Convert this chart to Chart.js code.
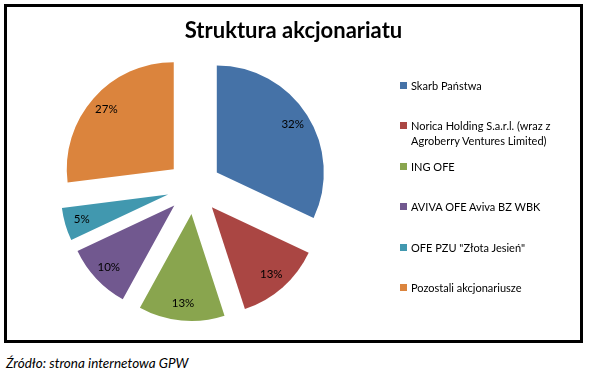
<!DOCTYPE html>
<html>
<head>
<meta charset="utf-8">
<script src="https://cdn.jsdelivr.net/npm/chart.js@4.4.1/dist/chart.umd.min.js"></script>
<style>
  body { margin: 0; width: 590px; height: 378px; background: #fff; font-family: Lato, "Open Sans", sans-serif; position: relative; }
  #frame { position: absolute; left: 4px; top: 4px; width: 573px; height: 333px; border: 3px solid #000; }
  #frame canvas { position: absolute; left: 0; top: 0; }
  #title { position: absolute; left: 0; right: 0; top: 8px; text-align: center; font-weight: bold; font-size: 22px; line-height: 30px; color: #000; }
  #legend { position: absolute; left: 393px; top: 71px; }
  .item { position: relative; height: 40.4px; padding-left: 11px; font-size: 11px; line-height: 15px; color: #000; }
  .item span.box { position: absolute; left: 0; top: 4px; width: 7px; height: 7px; }
  #source { position: absolute; left: 6px; top: 355px; font-style: italic; font-size: 13.5px; color: #000; }
</style>
</head>
<body>
<div id="frame">
  <canvas id="pie" width="573" height="333"></canvas>
  <div id="title">Struktura akcjonariatu</div>
  <div id="legend"></div>
</div>
<div id="source">Źródło: strona internetowa GPW</div>
<script>
const labels = [
  'Skarb Państwa',
  'Norica Holding S.a.r.l. (wraz z Agroberry Ventures Limited)',
  'ING OFE',
  'AVIVA OFE Aviva BZ WBK',
  'OFE PZU "Złota Jesień"',
  'Pozostali akcjonariusze'
];
const legendLines = [
  ['Skarb Państwa'],
  ['Norica Holding S.a.r.l. (wraz z', 'Agroberry Ventures Limited)'],
  ['ING OFE'],
  ['AVIVA OFE Aviva BZ WBK'],
  ['OFE PZU "Złota Jesień"'],
  ['Pozostali akcjonariusze']
];
const shares = [32, 13, 13, 10, 5, 27];
const colors = ['#4572A7', '#AA4643', '#89A54E', '#71588F', '#4198AF', '#DB843D'];

const EXPLODE = 27;

// html legend
const legend = document.getElementById('legend');
legendLines.forEach((lines, i) => {
  const div = document.createElement('div');
  div.className = 'item';
  div.innerHTML = '<span class="box" style="background:' + colors[i] + '"></span>' + lines.join('<br>');
  legend.appendChild(div);
});

// chart.js grows small exploded slices and trims their angle,
// undo that so every slice is just shifted out like in excel
const plainExplode = {
  id: 'plainExplode',
  beforeDatasetDraw(chart) {
    chart.getDatasetMeta(0).data.forEach(arc => {
      const off = (arc.options.offset || 0) / 4;
      const fix = 1 - Math.sin(Math.min(Math.PI, arc.circumference));
      const radOff = off * fix;
      const r = arc.outerRadius;
      arc.$saved = { outerRadius: r, startAngle: arc.startAngle, endAngle: arc.endAngle };
      const widen = radOff / (2 * Math.PI * r);
      arc.outerRadius = r - radOff;
      arc.startAngle -= widen;
      arc.endAngle += widen;
    });
  },
  afterDatasetDraw(chart) {
    chart.getDatasetMeta(0).data.forEach(arc => {
      if (arc.$saved) {
        Object.assign(arc, arc.$saved);
        delete arc.$saved;
      }
    });
  }
};

// percent labels inside the slices
const pctLabels = {
  id: 'pctLabels',
  afterDatasetsDraw(chart) {
    const ctx = chart.ctx;
    const meta = chart.getDatasetMeta(0);
    ctx.save();
    ctx.font = '11.5px Lato';
    ctx.fillStyle = '#000';
    ctx.textAlign = 'center';
    ctx.textBaseline = 'middle';
    meta.data.forEach((arc, i) => {
      const mid = (arc.startAngle + arc.endAngle) / 2;
      const d = EXPLODE + arc.outerRadius * 0.84;
      ctx.fillText(shares[i] + '%', arc.x + Math.cos(mid) * d, arc.y + Math.sin(mid) * d);
    });
    ctx.restore();
  }
};

const ctx = document.getElementById('pie').getContext('2d');
const chart = new Chart(ctx, {
  type: 'pie',
  data: {
    labels: labels,
    datasets: [
      {
        data: shares,
        backgroundColor: colors,
        borderWidth: 0,
        offset: EXPLODE * 4
      }
    ]
  },
  options: {
    responsive: false,
    animation: false,
    events: [],
    radius: 107,
    layout: {
      padding: { left: 0, right: 199, top: 27, bottom: 0 }
    },
    plugins: {
      legend: { display: false },
      tooltip: { enabled: false }
    }
  },
  plugins: [plainExplode, pctLabels]
});
</script>
</body>
</html>
